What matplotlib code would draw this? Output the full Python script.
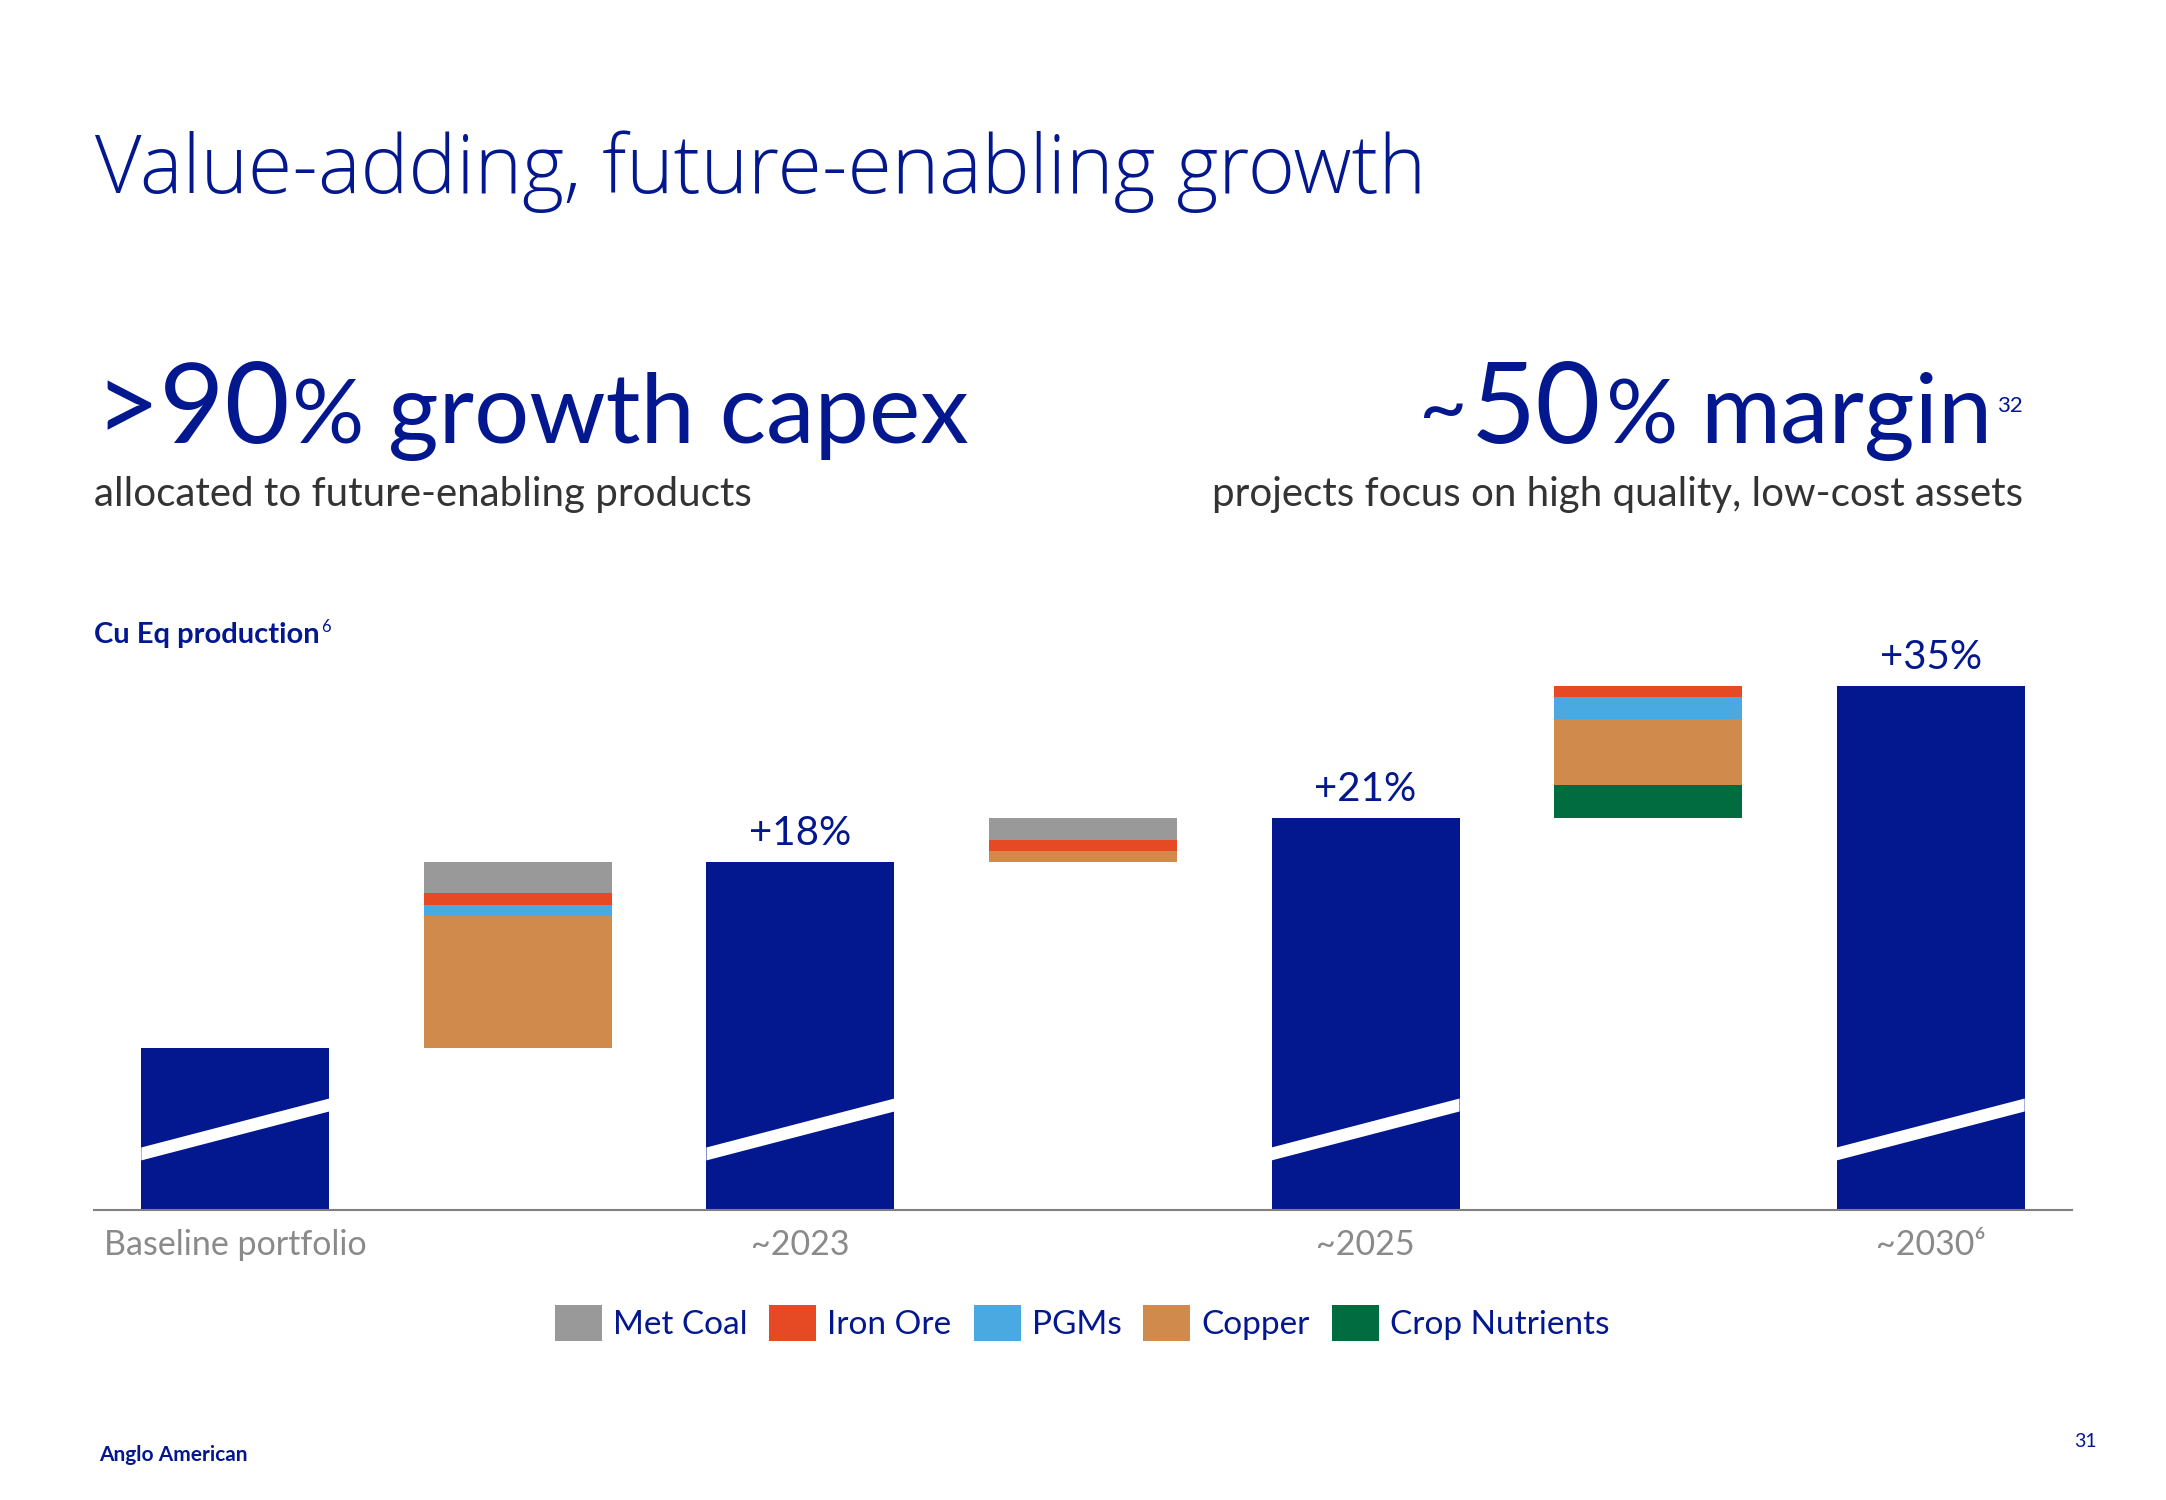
import matplotlib

matplotlib.use("Agg")
import matplotlib.pyplot as plt
import matplotlib.transforms as mtransforms
from matplotlib.patches import Patch, Polygon

plt.rcParams["font.family"] = ["Lato", "DejaVu Sans"]

W_PX, H_PX = 2166, 1500
NAVY = "#03188f"
GREY_TXT = "#8a8a8a"
DARK_TXT = "#333333"
COLORS = {
    "Met Coal": "#999999",
    "Iron Ore": "#e64a25",
    "PGMs": "#4ba9e1",
    "Copper": "#d08a4c",
    "Crop Nutrients": "#006c3f",
}

# data (Cu Eq production, baseline = 100)
categories = ["Baseline portfolio", "~2023", "~2025", "~2030⁶"]
totals = [100.0, 214.8, 242.0, 323.5]
growth_labels = ["+18%", "+21%", "+35%"]
commodities = ["Met Coal", "Iron Ore", "PGMs", "Copper", "Crop Nutrients"]
met_coal = [19.1, 13.6, 0.0]
iron_ore = [7.4, 6.8, 6.8]
pgms = [6.8, 0.0, 13.6]
copper = [81.5, 6.8, 40.7]
crop_nutrients = [0.0, 0.0, 20.4]


def draw_runs(fig, x, y, parts, color, ha="left"):
    """Place text pieces of mixed size on one baseline (x, y in px from top-left)."""
    renderer = fig.canvas.get_renderer()
    items = []
    for s, size, weight, dy, gap in parts:
        t = fig.text(0, 0, s, fontsize=size, fontweight=weight, color=color,
                     va="baseline", ha="left", transform=mtransforms.IdentityTransform())
        items.append((t, t.get_window_extent(renderer).width, dy, gap))
    total = sum(w + gap for _, w, _, gap in items)
    cx = x - total if ha == "right" else x
    for t, w, dy, gap in items:
        cx += gap
        t.set_position((cx, H_PX - y + dy))
        cx += w


fig = plt.figure(figsize=(W_PX / 100, H_PX / 100), dpi=100)

# chart area: axis line at y=1210 px, x from 94 to 2072 px
ax = fig.add_axes([94 / W_PX, (H_PX - 1210) / H_PX, (2072 - 94) / W_PX, 610 / H_PX])
bar_w = 0.665
total_x = [0, 2, 4, 6]
step_x = [1, 3, 5]

ax.bar(total_x, totals, width=bar_w, color=NAVY, linewidth=0, zorder=2)

stack = [("Crop Nutrients", crop_nutrients), ("Copper", copper), ("PGMs", pgms),
         ("Iron Ore", iron_ore), ("Met Coal", met_coal)]
bottoms = list(totals[:-1])
for name, vals in stack:
    ax.bar(step_x, vals, width=bar_w, bottom=bottoms, color=COLORS[name], linewidth=0, zorder=2)
    bottoms = [b + v for b, v in zip(bottoms, vals)]

# white break stripe across the blue bars
for x in total_x:
    x0, x1 = x - bar_w / 2, x + bar_w / 2
    ax.add_patch(Polygon([(x0, 30.6), (x1, 60.8), (x1, 68.8), (x0, 38.6)],
                         closed=True, facecolor="white", edgecolor="none", zorder=3))

for x, top, lab in zip(total_x[1:], totals[1:], growth_labels):
    ax.annotate(lab, (x, top), xytext=(0, 12), textcoords="offset points",
                ha="center", va="baseline", fontsize=29, color=NAVY)

ax.set_xlim(-0.5, 6.5)
ax.set_ylim(0, 376.5)
ax.set_yticks([])
ax.set_xticks(total_x)
ax.set_xticklabels(categories)
ax.tick_params(axis="x", length=0, pad=14, labelsize=24.5, labelcolor=GREY_TXT)
for side in ["top", "right", "left"]:
    ax.spines[side].set_visible(False)
ax.spines["bottom"].set_color("#808080")
ax.spines["bottom"].set_linewidth(1.5)
ax.patch.set_alpha(0)

handles = [Patch(facecolor=COLORS[c], edgecolor="none") for c in commodities]
fig.legend(handles, commodities, loc="center", bbox_to_anchor=(1082 / W_PX, 1 - 1323 / H_PX),
           ncol=5, frameon=False, fontsize=24, handlelength=1.41, handleheight=1.24,
           handletextpad=0.33, columnspacing=0.66, labelcolor=NAVY)

# headline texts
fig.text(95, H_PX - 193, "Value-adding, future-enabling growth", fontsize=58, fontweight="light",
         family=["Open Sans", "Lato"], color=NAVY, va="baseline",
         transform=mtransforms.IdentityTransform())

draw_runs(fig, 94, 443, [(">90", 81, "normal", 0, 0), ("%", 65, "normal", 0, 2),
                         ("growth capex", 70, "normal", 0, 24)], NAVY)
fig.text(94, H_PX - 506, "allocated to future-enabling products", fontsize=29, color=DARK_TXT,
         va="baseline", transform=mtransforms.IdentityTransform())

draw_runs(fig, 2023, 443, [("~", 60, "normal", 8, 0), ("50", 81, "normal", 0, 4),
                           ("%", 65, "normal", 0, 4), ("margin", 70, "normal", 0, 22),
                           ("32", 16, "normal", 31, 5)], NAVY, ha="right")
fig.text(2023, H_PX - 506, "projects focus on high quality, low-cost assets", fontsize=29,
         color=DARK_TXT, ha="right", va="baseline", transform=mtransforms.IdentityTransform())

draw_runs(fig, 94, 643, [("Cu Eq production", 21, "bold", 0, 0), ("6", 12, "normal", 11, 2)], NAVY)

fig.text(99, H_PX - 1461, "Anglo American", fontsize=15, fontweight="bold", color=NAVY,
         va="baseline", transform=mtransforms.IdentityTransform())
fig.text(2097, H_PX - 1447, "31", fontsize=14, color=NAVY, ha="right", va="baseline",
         transform=mtransforms.IdentityTransform())

fig.savefig("out.png", dpi=100, facecolor="white")
plt.close(fig)
